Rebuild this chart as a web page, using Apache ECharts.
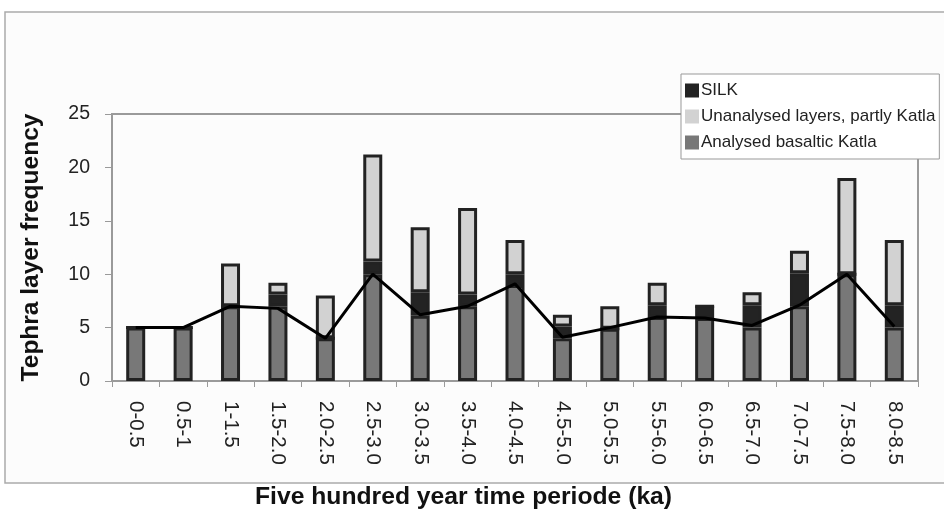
<!DOCTYPE html>
<html>
<head>
<meta charset="utf-8">
<script src="https://cdn.jsdelivr.net/npm/echarts@6/dist/echarts.min.js"></script>
<style>
  html, body { margin: 0; padding: 0; background: #ffffff; }
  #chart { width: 944px; height: 516px; }
</style>
</head>
<body>
<div id="chart"></div>
<script>
// ---- data ----
const categories = ['0-0.5','0.5-1','1-1.5','1.5-2.0','2.0-2.5','2.5-3.0','3.0-3.5','3.5-4.0','4.0-4.5','4.5-5.0','5.0-5.5','5.5-6.0','6.0-6.5','6.5-7.0','7.0-7.5','7.5-8.0','8.0-8.5'];
const analysedKatla = [5, 5, 7, 7, 4, 10, 6.1, 7, 9, 4, 4.9, 6, 5.9, 5, 7, 10, 5];
const silk          = [0, 0, 0, 1.1, 0, 1.2, 2.2, 1.1, 1, 1.1, 0, 1.1, 1.1, 2.1, 3.1, 0, 2.1];
const unanalysed    = [0, 0, 4, 1.1, 4, 10, 6.1, 8.1, 3.2, 1.1, 2.1, 2.1, 0, 1.2, 2.1, 9, 6.1];
const trendLine     = [5, 5, 7, 6.8, 4, 10, 6.2, 7, 9.1, 4.1, 5, 6, 5.9, 5.2, 7.1, 10, 5.1];
const seriesNames = ['Analysed basaltic Katla', 'SILK', 'Unanalysed layers, partly Katla'];
const yTicks = { min: 0, max: 25, interval: 5 };

const FONT = "'Liberation Sans', Arial, sans-serif";
const BORDER = '#222222';

const chart = echarts.init(document.getElementById('chart'), null, { renderer: 'canvas' });

function barSeries(name, data, color) {
  return {
    name: name,
    type: 'bar',
    stack: 'total',
    barWidth: 19,
    data: data,
    itemStyle: { color: color, borderColor: BORDER, borderWidth: 3 },
    emphasis: { disabled: true },
    z: 2
  };
}

chart.setOption({
  animation: false,
  backgroundColor: '#ffffff',
  textStyle: { fontFamily: FONT },
  graphic: {
    elements: [{
      type: 'rect',
      z: -10,
      silent: true,
      shape: { x: 5, y: 12, width: 960, height: 471 },
      style: { fill: '#fcfcfc', stroke: '#aaaaaa', lineWidth: 1.5 }
    }]
  },
  title: {
    text: 'Five hundred year time periode (ka)',
    left: 255,
    top: 485,
    padding: 0,
    textStyle: { fontFamily: FONT, fontSize: 24.7, fontWeight: 'bold', color: '#111111' }
  },
  legend: {
    data: ['SILK', 'Unanalysed layers, partly Katla', 'Analysed basaltic Katla'],
    orient: 'vertical',
    left: 681,
    top: 74,
    padding: [8, 4, 8, 4],
    itemWidth: 14,
    itemHeight: 14,
    itemGap: 9,
    icon: 'rect',
    backgroundColor: '#ffffff',
    borderColor: '#999999',
    borderWidth: 1,
    itemStyle: { borderWidth: 0 },
    textStyle: { fontFamily: FONT, fontSize: 17, color: '#222222', padding: [0, 0, 0, -3] },
    selectedMode: false,
    z: 10
  },
  grid: {
    left: 112, right: 26, top: 114, bottom: 135,
    show: true,
    borderColor: '#9a9a9a',
    borderWidth: 2,
    backgroundColor: 'transparent',
    outerBoundsMode: 'none',
    containLabel: false
  },
  xAxis: {
    type: 'category',
    data: categories,
    boundaryGap: true,
    axisLine: { lineStyle: { color: '#9a9a9a', width: 2 } },
    axisTick: { show: true, alignWithLabel: false, length: 6, lineStyle: { color: '#9a9a9a', width: 1 } },
    axisLabel: { rotate: -90, fontSize: 20.5, color: '#222222', margin: 20, fontFamily: FONT, interval: 0 },
    splitLine: { show: false }
  },
  yAxis: {
    type: 'value',
    min: yTicks.min, max: yTicks.max, interval: yTicks.interval,
    name: 'Tephra layer frequency',
    nameLocation: 'middle',
    nameGap: 68,
    nameTextStyle: { fontFamily: FONT, fontSize: 24.5, fontWeight: 'bold', color: '#111111' },
    axisLine: { show: true, lineStyle: { color: '#9a9a9a', width: 2 } },
    axisTick: { show: true, length: 7, lineStyle: { color: '#9a9a9a', width: 1 } },
    axisLabel: { fontSize: 19.5, color: '#222222', margin: 22, fontFamily: FONT },
    splitLine: { show: false }
  },
  series: [
    barSeries(seriesNames[0], analysedKatla, '#787878'),
    barSeries(seriesNames[1], silk, '#232323'),
    barSeries(seriesNames[2], unanalysed, '#d2d2d2'),
    {
      name: 'trend',
      type: 'line',
      data: trendLine,
      symbol: 'none',
      lineStyle: { color: '#000000', width: 3 },
      emphasis: { disabled: true },
      z: 5
    }
  ]
});
</script>
</body>
</html>
